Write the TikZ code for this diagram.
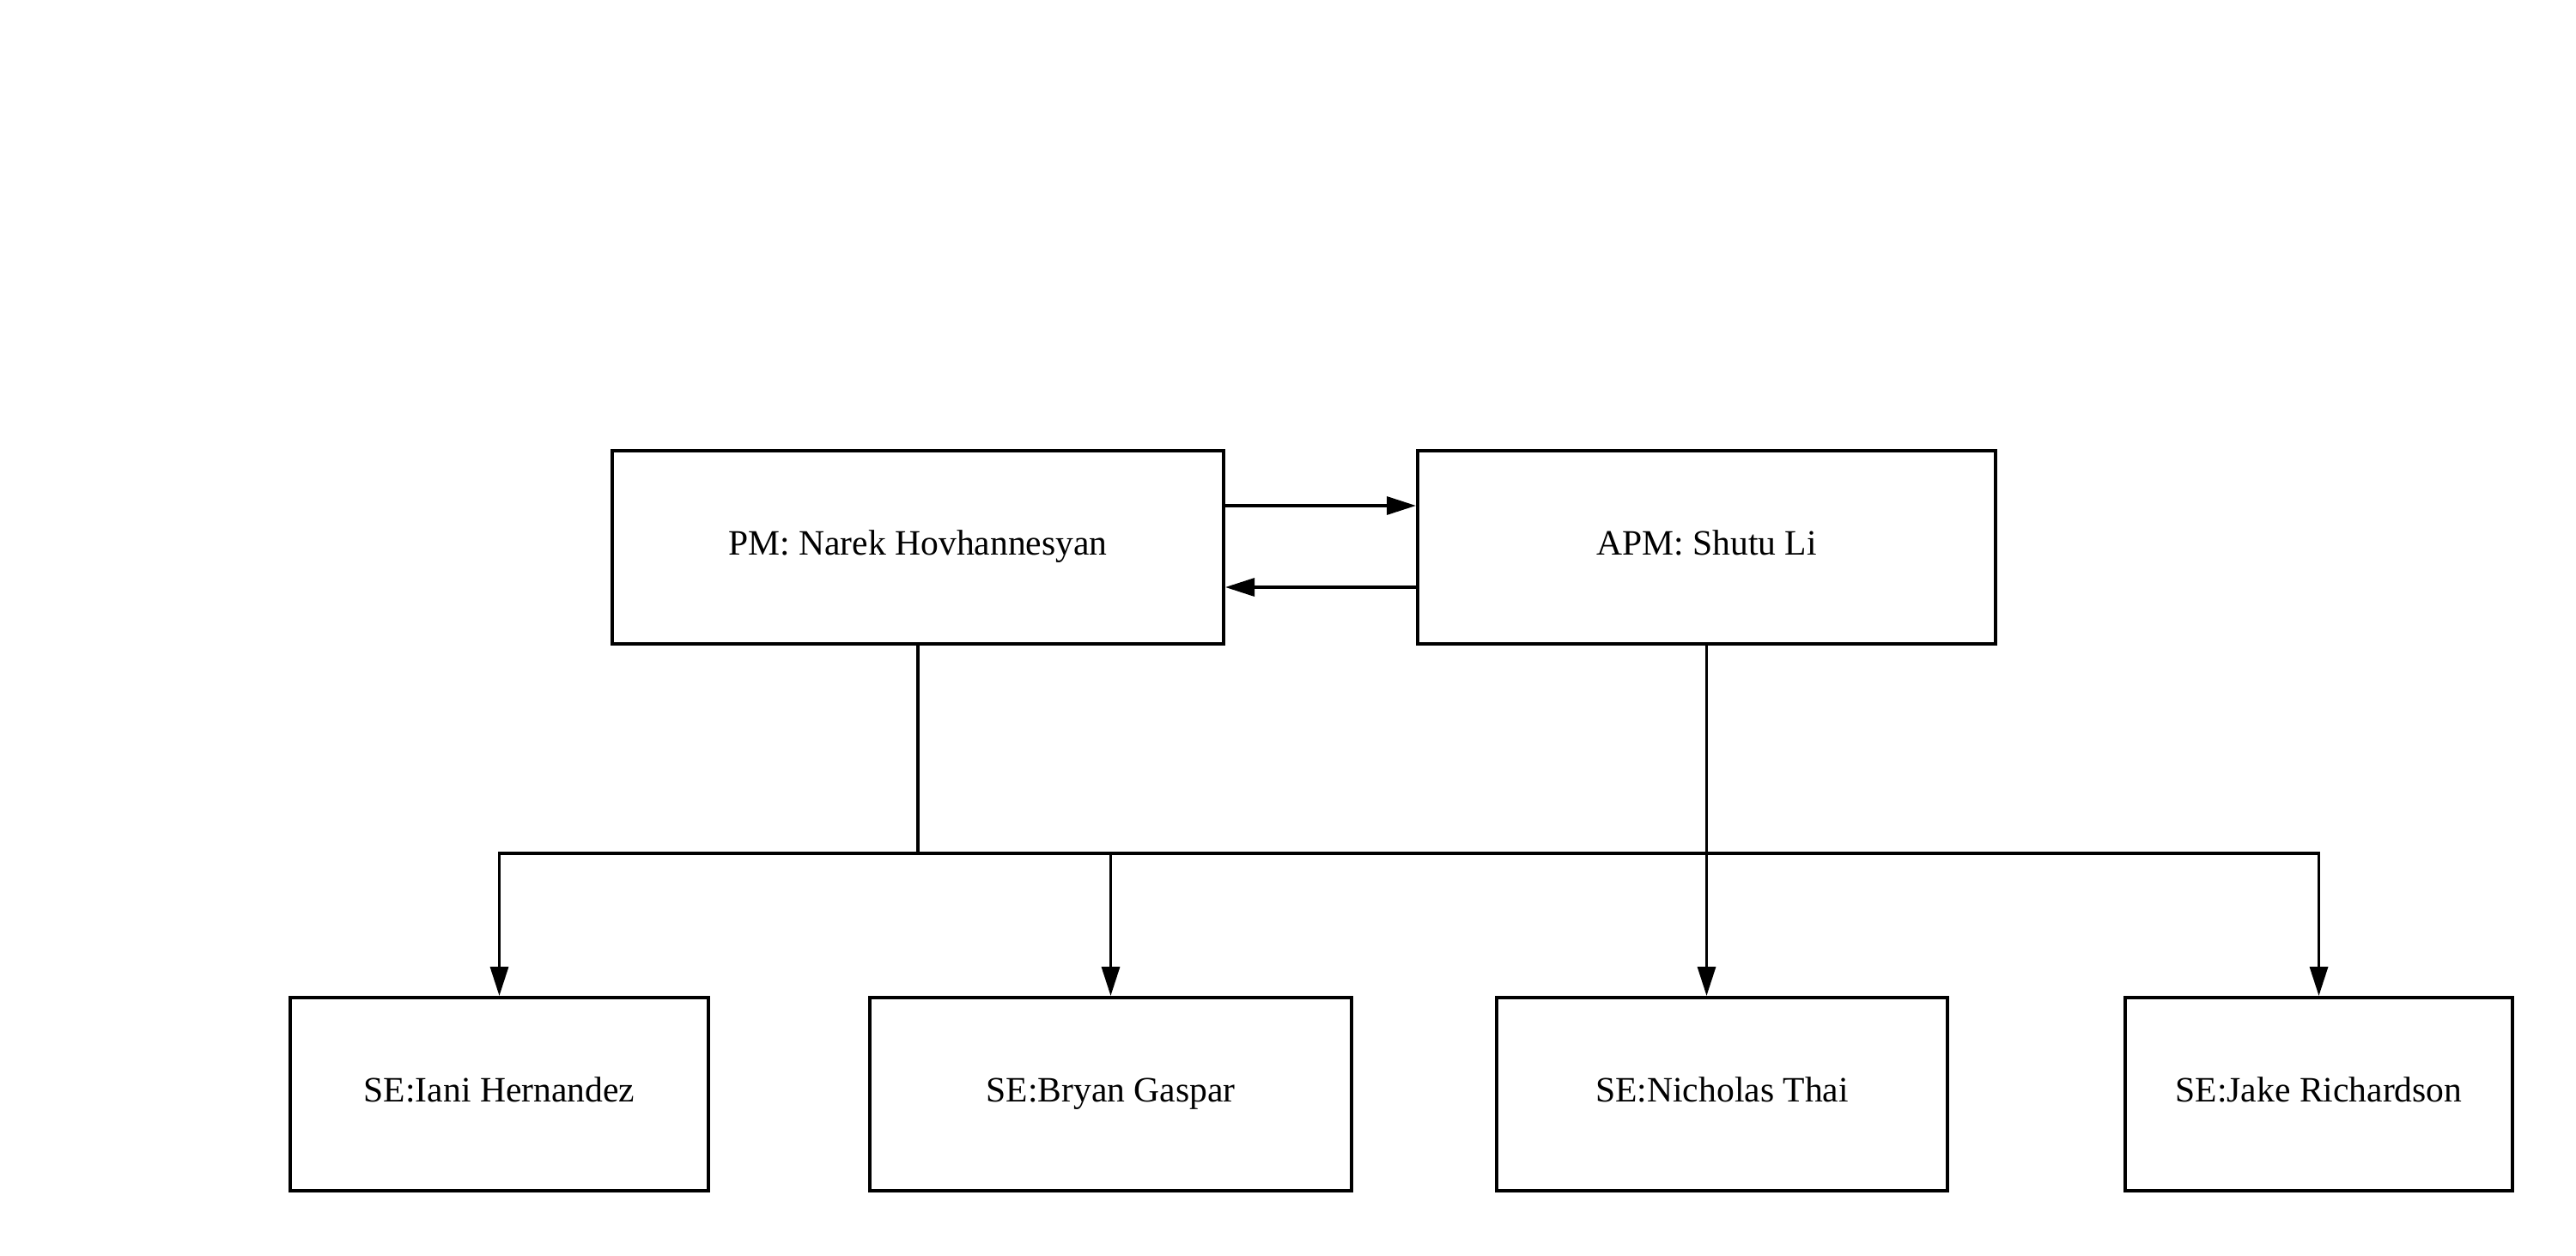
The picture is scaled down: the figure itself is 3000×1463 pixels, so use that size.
\documentclass[tikz,border=0pt]{standalone}
\usepackage{fontspec}
\setmainfont{Liberation Serif}
\usetikzlibrary{arrows.meta}
\tikzset{
  box/.style={draw=black, line width=4pt, rectangle, inner sep=0pt, minimum height=225pt,
    text height=24pt, text depth=6pt,
    font=\fontsize{41.6}{50}\selectfont, anchor=center},
  conn/.style={draw=black, line width=3.3pt},
  arr/.style={conn, -{Triangle[length=34pt,width=21pt]}}
}
\begin{document}
\begin{tikzpicture}[x=1pt,y=-1pt]
\useasboundingbox (0,0) rectangle (3000,1463);
\node[box, minimum width=712pt] (pm) at (1069,637.5) {PM: Narek Hovhannesyan};
\node[box, minimum width=673pt] (apm) at (1987.5,637.5) {APM: Shutu Li};
\node[box, minimum width=487pt] (iani) at (581.5,1274.5) {SE:Iani Hernandez};
\node[box, minimum width=561pt] (bryan) at (1293.5,1274.5) {SE:Bryan Gaspar};
\node[box, minimum width=525pt] (nick) at (2005.5,1274.5) {SE:Nicholas Thai};
\node[box, minimum width=451pt] (jake) at (2700.5,1274.5) {SE:Jake Richardson};
\coordinate (busL) at (581.5,994);
\coordinate (busR) at (2700.5,994);
\draw[arr] ([yshift=48.5pt]pm.east) -- ([yshift=48.5pt]apm.west);
\draw[arr] ([yshift=-46.5pt]apm.west) -- ([yshift=-46.5pt]pm.east);
\draw[conn] (pm.south) -- (pm.south |- busL);
\draw[conn, line cap=rect] (busL) -- (busR);
\draw[arr] (busL) -- (iani.north);
\draw[arr] (bryan.north |- busL) -- (bryan.north);
\draw[arr] (busR) -- (jake.north);
\draw[arr] (apm.south) -- (apm.south |- nick.north);
\end{tikzpicture}
\end{document}
